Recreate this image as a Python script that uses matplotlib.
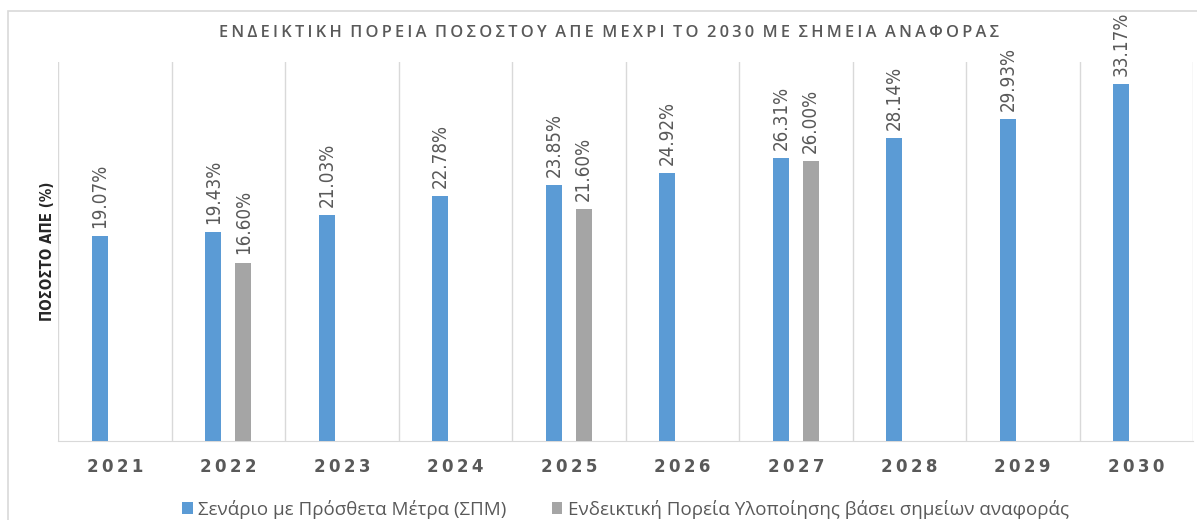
import matplotlib.pyplot as plt
import numpy as np
from matplotlib.patches import Rectangle

# --- Data ---
years = ["2021", "2022", "2023", "2024", "2025", "2026", "2027", "2028", "2029", "2030"]
spm = [19.07, 19.43, 21.03, 22.78, 23.85, 24.92, 26.31, 28.14, 29.93, 33.17]
ref = [None, 16.60, None, None, 21.60, None, 26.00, None, None, None]

spm_label = "Σενάριο με Πρόσθετα Μέτρα (ΣΠΜ)"
ref_label = "Ενδεικτική Πορεία Υλοποίησης βάσει σημείων αναφοράς"
title = "ΕΝΔΕΙΚΤΙΚΗ ΠΟΡΕΙΑ ΠΟΣΟΣΤΟΥ ΑΠΕ ΜΕΧΡΙ ΤΟ 2030 ΜΕ ΣΗΜΕΙΑ ΑΝΑΦΟΡΑΣ"
ylabel = "ΠΟΣΟΣΤΟ ΑΠΕ (%)"

blue = "#5b9bd5"
grey = "#a5a5a5"
text_col = "#595959"

plt.rcParams["font.family"] = ["Open Sans", "DejaVu Sans"]

fig = plt.figure(figsize=(11.97, 5.2), dpi=100)
fig.patches.append(Rectangle((8 / 1197, -0.05), 1.2, (520 - 11) / 520 + 0.05,
                             transform=fig.transFigure, fill=False,
                             edgecolor="#d9d9d9", lw=1.2))
ax = fig.add_axes([58 / 1197, 79 / 520, 1135 / 1197, 379 / 520])

x = np.arange(len(years))
off = 0.132
w = 0.14

ax.bar(x - off, spm, width=w, color=blue, label=spm_label, zorder=3)
rx = [i for i, v in enumerate(ref) if v is not None]
rv = [v for v in ref if v is not None]
ax.bar(np.array(rx) + off, rv, width=w, color=grey, label=ref_label, zorder=3)

lab_kw = dict(rotation=90, ha="center", va="bottom", color=text_col, fontsize=13.5,
              family="DejaVu Sans", fontstretch="condensed")
for xi, v in zip(x, spm):
    ax.text(xi - off, v + 0.75, f"{v:.2f}%", **lab_kw)
for xi, v in zip(rx, rv):
    ax.text(xi + off, v + 0.75, f"{v:.2f}%", **lab_kw)

ax.set_xlim(-0.5, len(years) - 0.5)
ax.set_ylim(0, 35.25)
ax.set_yticks([])
ax.set_xticks(x)
ax.set_xticklabels(["\u2009".join(y) for y in years], fontsize=12, fontweight="bold",
                   color=text_col, family="DejaVu Sans")
ax.tick_params(axis="x", length=0, pad=12)

# category separators
for b in np.arange(-0.5, len(years), 1.0):
    ax.axvline(b, color="#d9d9d9", lw=1, zorder=1)
for s in ["top", "right", "left"]:
    ax.spines[s].set_visible(False)
ax.spines["bottom"].set_color("#d9d9d9")

ax.set_ylabel(ylabel, fontsize=10.8, color="#262626", fontweight="bold",
              family="DejaVu Sans", fontstretch="condensed", labelpad=2)

fig.text(0.509, 0.937, "\u2009".join(title).replace("\u2009 \u2009", "  "),
         ha="center", va="center", fontsize=11.8, color=text_col, fontweight="semibold",
         family="Open Sans")

ax.legend(loc="upper center", bbox_to_anchor=(0.5, -0.11), ncol=2, frameon=False,
          fontsize=13.5, labelcolor=text_col, handlelength=0.55, handleheight=0.55,
          handletextpad=0.3, columnspacing=2.4)

fig.savefig("out.png", dpi=100)
